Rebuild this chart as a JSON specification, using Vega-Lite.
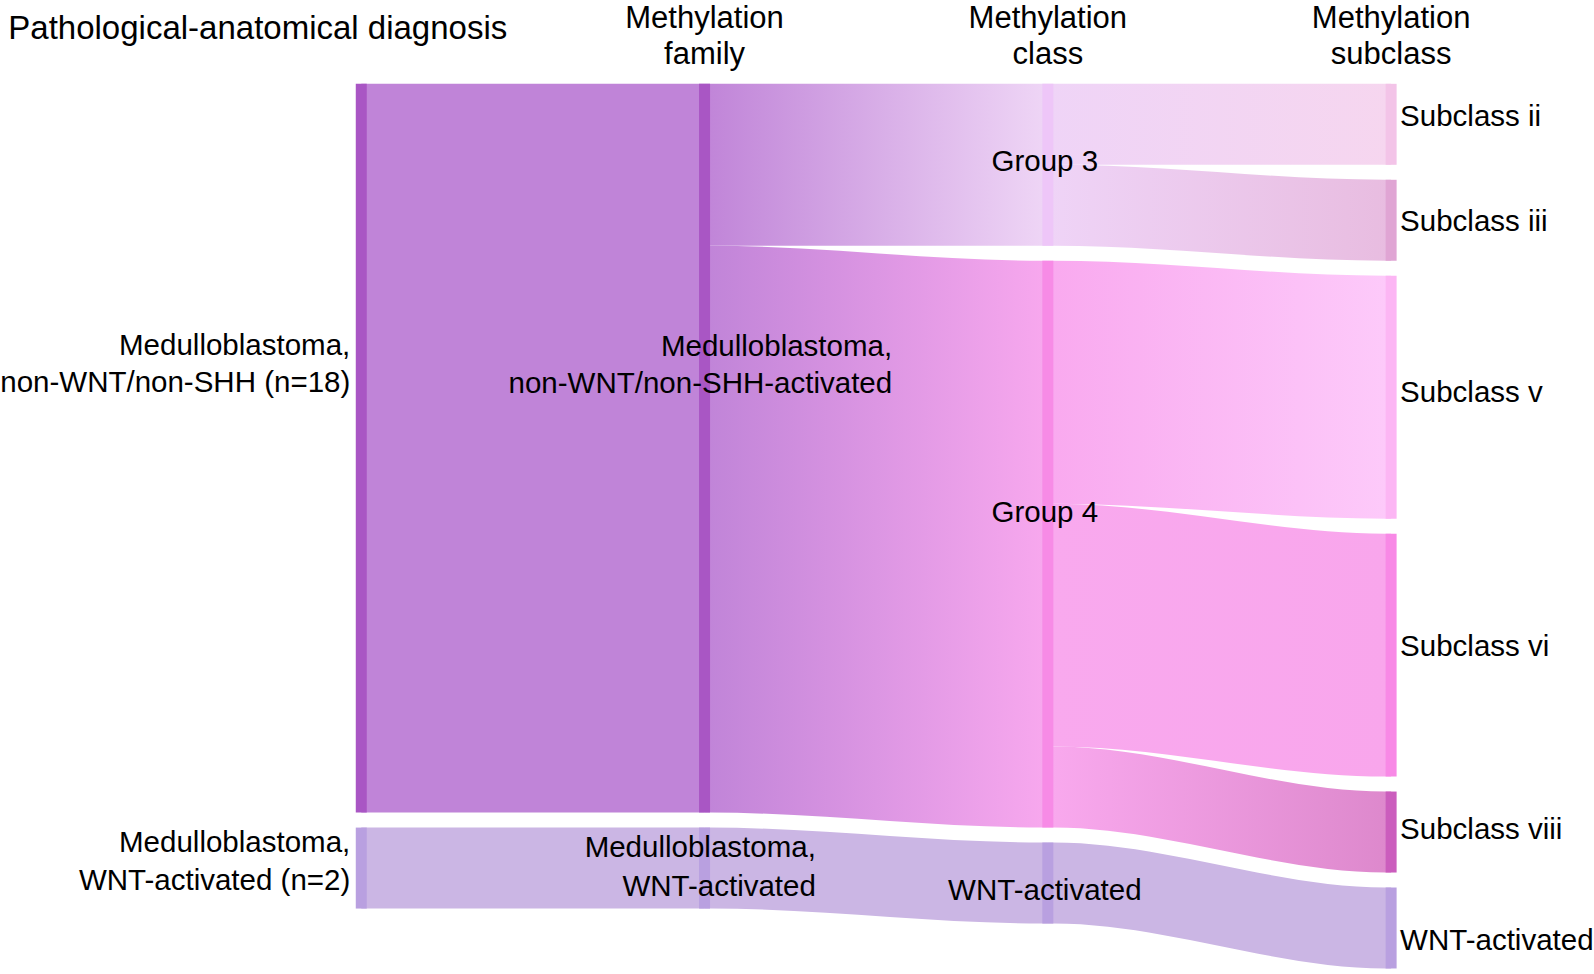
{
  "$schema": "https://vega.github.io/schema/vega-lite/v6.json",
  "width": 1594,
  "height": 974,
  "autosize": {"type": "fit", "contains": "padding"},
  "padding": 0,
  "background": "white",
  "config": {"view": {"stroke": null}, "text": {"font": "Liberation Sans", "color": "#000000"}},
  "datasets": {
    "links": [
      {"link": "L1", "x": 0, "y": 0, "y2": 18}, {"link": "L1", "x": 0.016, "y": 0, "y2": 18}, {"link": "L1", "x": 0.984, "y": 0, "y2": 18}, {"link": "L1", "x": 1, "y": 0, "y2": 18},
      {"link": "L2", "x": 0, "y": 18.37, "y2": 20.37}, {"link": "L2", "x": 0.016, "y": 18.37, "y2": 20.37}, {"link": "L2", "x": 0.984, "y": 18.37, "y2": 20.37}, {"link": "L2", "x": 1, "y": 18.37, "y2": 20.37},
      {"link": "L3", "x": 1, "y": 0, "y2": 4}, {"link": "L3", "x": 1.016, "y": 0, "y2": 4}, {"link": "L3", "x": 1.984, "y": 0, "y2": 4}, {"link": "L3", "x": 2, "y": 0, "y2": 4},
      {"link": "L4", "x": 1, "y": 4, "y2": 18}, {"link": "L4", "x": 1.016, "y": 4, "y2": 18}, {"link": "L4", "x": 1.984, "y": 4.37, "y2": 18.37}, {"link": "L4", "x": 2, "y": 4.37, "y2": 18.37},
      {"link": "L5", "x": 1, "y": 18.37, "y2": 20.37}, {"link": "L5", "x": 1.016, "y": 18.37, "y2": 20.37}, {"link": "L5", "x": 1.984, "y": 18.74, "y2": 20.74}, {"link": "L5", "x": 2, "y": 18.74, "y2": 20.74},
      {"link": "L6", "x": 2, "y": 0, "y2": 2}, {"link": "L6", "x": 2.016, "y": 0, "y2": 2}, {"link": "L6", "x": 2.984, "y": 0, "y2": 2}, {"link": "L6", "x": 3, "y": 0, "y2": 2},
      {"link": "L7", "x": 2, "y": 2, "y2": 4}, {"link": "L7", "x": 2.016, "y": 2, "y2": 4}, {"link": "L7", "x": 2.984, "y": 2.37, "y2": 4.37}, {"link": "L7", "x": 3, "y": 2.37, "y2": 4.37},
      {"link": "L8", "x": 2, "y": 4.37, "y2": 10.37}, {"link": "L8", "x": 2.016, "y": 4.37, "y2": 10.37}, {"link": "L8", "x": 2.984, "y": 4.74, "y2": 10.74}, {"link": "L8", "x": 3, "y": 4.74, "y2": 10.74},
      {"link": "L9", "x": 2, "y": 10.37, "y2": 16.37}, {"link": "L9", "x": 2.016, "y": 10.37, "y2": 16.37}, {"link": "L9", "x": 2.984, "y": 11.11, "y2": 17.11}, {"link": "L9", "x": 3, "y": 11.11, "y2": 17.11},
      {"link": "L10", "x": 2, "y": 16.37, "y2": 18.37}, {"link": "L10", "x": 2.016, "y": 16.37, "y2": 18.37}, {"link": "L10", "x": 2.984, "y": 17.48, "y2": 19.48}, {"link": "L10", "x": 3, "y": 17.48, "y2": 19.48},
      {"link": "L11", "x": 2, "y": 18.74, "y2": 20.74}, {"link": "L11", "x": 2.016, "y": 18.74, "y2": 20.74}, {"link": "L11", "x": 2.984, "y": 19.85, "y2": 21.85}, {"link": "L11", "x": 3, "y": 19.85, "y2": 21.85}
    ],
    "nodes": [
      {"node": "nonWNT1", "x": 0, "y": 0, "y2": 18},
      {"node": "WNT1", "x": 0, "y": 18.37, "y2": 20.37},
      {"node": "nonWNT2", "x": 1, "y": 0, "y2": 18},
      {"node": "WNT2", "x": 1, "y": 18.37, "y2": 20.37},
      {"node": "G3", "x": 2, "y": 0, "y2": 4},
      {"node": "G4", "x": 2, "y": 4.37, "y2": 18.37},
      {"node": "WNT3", "x": 2, "y": 18.74, "y2": 20.74},
      {"node": "ii", "x": 3, "y": 0, "y2": 2},
      {"node": "iii", "x": 3, "y": 2.37, "y2": 4.37},
      {"node": "v", "x": 3, "y": 4.74, "y2": 10.74},
      {"node": "vi", "x": 3, "y": 11.11, "y2": 17.11},
      {"node": "viii", "x": 3, "y": 17.48, "y2": 19.48},
      {"node": "WNT4", "x": 3, "y": 19.85, "y2": 21.85}
    ],
    "labels": [
      {"grp": "c1", "x": 0, "y": 6.47, "text": "Medulloblastoma,\nnon-WNT/non-SHH (n=18)"},
      {"grp": "c1", "x": 0, "y": 18.75, "text": "Medulloblastoma,\nWNT-activated (n=2)"},
      {"grp": "c2a", "x": 1, "y": 6.49, "text": "Medulloblastoma,\nnon-WNT/non-SHH-activated"},
      {"grp": "c2b", "x": 1, "y": 18.87, "text": "Medulloblastoma,\nWNT-activated"},
      {"grp": "c3", "x": 2, "y": 1.94, "text": "Group 3"},
      {"grp": "c3", "x": 2, "y": 10.6, "text": "Group 4"},
      {"grp": "c3", "x": 2, "y": 19.93, "text": "WNT-activated"},
      {"grp": "c4", "x": 3, "y": 0.82, "text": "Subclass ii"},
      {"grp": "c4", "x": 3, "y": 3.42, "text": "Subclass iii"},
      {"grp": "c4", "x": 3, "y": 7.63, "text": "Subclass v"},
      {"grp": "c4", "x": 3, "y": 13.92, "text": "Subclass vi"},
      {"grp": "c4", "x": 3, "y": 18.42, "text": "Subclass viii"},
      {"grp": "c4", "x": 3, "y": 21.16, "text": "WNT-activated"},
      {"grp": "h1", "x": 0, "y": -1.35, "text": "Pathological-anatomical diagnosis"},
      {"grp": "h", "x": 1, "y": -1.6, "text": "Methylation\nfamily"},
      {"grp": "h", "x": 2, "y": -1.6, "text": "Methylation\nclass"},
      {"grp": "h", "x": 3, "y": -1.6, "text": "Methylation\nsubclass"}
    ]
  },
  "encoding": {
    "x": {"field": "x", "type": "quantitative", "scale": {"domain": [-1.0524, 3.5881], "nice": false, "zero": false}, "axis": null},
    "y": {"field": "y", "type": "quantitative", "scale": {"domain": [-2.0705, 21.937], "nice": false, "zero": false, "reverse": true}, "axis": null}
  },
  "layer": [
    {"data": {"name": "links"}, "transform": [{"filter": {"field": "link", "equal": "L1"}}],
     "mark": {"type": "area", "orient": "vertical", "interpolate": "monotone", "color": "#c084d8"},
     "encoding": {"y2": {"field": "y2"}}},
    {"data": {"name": "links"}, "transform": [{"filter": {"field": "link", "equal": "L2"}}],
     "mark": {"type": "area", "orient": "vertical", "interpolate": "monotone", "color": "#cbb6e4"},
     "encoding": {"y2": {"field": "y2"}}},
    {"data": {"name": "links"}, "transform": [{"filter": {"field": "link", "equal": "L3"}}],
     "mark": {"type": "area", "orient": "vertical", "interpolate": "monotone", "color": {"gradient": "linear", "x1": 0, "x2": 1, "y1": 0, "y2": 0, "stops": [{"offset": 0, "color": "#c084d8"}, {"offset": 1, "color": "#efd6f6"}]}},
     "encoding": {"y2": {"field": "y2"}}},
    {"data": {"name": "links"}, "transform": [{"filter": {"field": "link", "equal": "L4"}}],
     "mark": {"type": "area", "orient": "vertical", "interpolate": "monotone", "color": {"gradient": "linear", "x1": 0, "x2": 1, "y1": 0, "y2": 0, "stops": [{"offset": 0, "color": "#c084d8"}, {"offset": 1, "color": "#f8a8ee"}]}},
     "encoding": {"y2": {"field": "y2"}}},
    {"data": {"name": "links"}, "transform": [{"filter": {"field": "link", "equal": "L5"}}],
     "mark": {"type": "area", "orient": "vertical", "interpolate": "monotone", "color": "#cbb6e4"},
     "encoding": {"y2": {"field": "y2"}}},
    {"data": {"name": "links"}, "transform": [{"filter": {"field": "link", "equal": "L6"}}],
     "mark": {"type": "area", "orient": "vertical", "interpolate": "monotone", "color": {"gradient": "linear", "x1": 0, "x2": 1, "y1": 0, "y2": 0, "stops": [{"offset": 0, "color": "#efd4f7"}, {"offset": 1, "color": "#f6d6ef"}]}},
     "encoding": {"y2": {"field": "y2"}}},
    {"data": {"name": "links"}, "transform": [{"filter": {"field": "link", "equal": "L7"}}],
     "mark": {"type": "area", "orient": "vertical", "interpolate": "monotone", "color": {"gradient": "linear", "x1": 0, "x2": 1, "y1": 0, "y2": 0, "stops": [{"offset": 0, "color": "#efd4f7"}, {"offset": 1, "color": "#e8bce0"}]}},
     "encoding": {"y2": {"field": "y2"}}},
    {"data": {"name": "links"}, "transform": [{"filter": {"field": "link", "equal": "L8"}}],
     "mark": {"type": "area", "orient": "vertical", "interpolate": "monotone", "color": {"gradient": "linear", "x1": 0, "x2": 1, "y1": 0, "y2": 0, "stops": [{"offset": 0, "color": "#f9a9ef"}, {"offset": 1, "color": "#fdcafa"}]}},
     "encoding": {"y2": {"field": "y2"}}},
    {"data": {"name": "links"}, "transform": [{"filter": {"field": "link", "equal": "L9"}}],
     "mark": {"type": "area", "orient": "vertical", "interpolate": "monotone", "color": {"gradient": "linear", "x1": 0, "x2": 1, "y1": 0, "y2": 0, "stops": [{"offset": 0, "color": "#f9a9ee"}, {"offset": 1, "color": "#f9a6ec"}]}},
     "encoding": {"y2": {"field": "y2"}}},
    {"data": {"name": "links"}, "transform": [{"filter": {"field": "link", "equal": "L10"}}],
     "mark": {"type": "area", "orient": "vertical", "interpolate": "monotone", "color": {"gradient": "linear", "x1": 0, "x2": 1, "y1": 0, "y2": 0, "stops": [{"offset": 0, "color": "#f9a9ee"}, {"offset": 1, "color": "#dd88cc"}]}},
     "encoding": {"y2": {"field": "y2"}}},
    {"data": {"name": "links"}, "transform": [{"filter": {"field": "link", "equal": "L11"}}],
     "mark": {"type": "area", "orient": "vertical", "interpolate": "monotone", "color": "#cbb6e4"},
     "encoding": {"y2": {"field": "y2"}}},
    {"data": {"name": "nodes"},
     "mark": {"type": "rule", "strokeWidth": 11, "strokeCap": "butt"},
     "encoding": {
       "y2": {"field": "y2"},
       "color": {"field": "node", "type": "nominal", "legend": null,
         "scale": {"domain": ["nonWNT1", "WNT1", "nonWNT2", "WNT2", "G3", "G4", "WNT3", "ii", "iii", "v", "vi", "viii", "WNT4"],
                   "range": ["#a956c4", "#b9a0e0", "#a956c4", "#b9a0e0", "#eec6f8", "#f78be6", "#b9a0e0", "#f3c4e8", "#e0a5d4", "#fcb6f4", "#f889e6", "#cb5dbd", "#b9a0e0"]}}
     }},
    {"data": {"name": "labels"}, "transform": [{"filter": {"field": "grp", "equal": "c1"}}],
     "mark": {"type": "text", "align": "right", "baseline": "middle", "dx": -11, "fontSize": 29.5, "lineBreak": "\n", "lineHeight": 37.6},
     "encoding": {"text": {"field": "text"}}},
    {"data": {"name": "labels"}, "transform": [{"filter": {"field": "grp", "equal": "c2a"}}],
     "mark": {"type": "text", "align": "right", "baseline": "middle", "dx": 187.6, "fontSize": 29.5, "lineBreak": "\n", "lineHeight": 37.6},
     "encoding": {"text": {"field": "text"}}},
    {"data": {"name": "labels"}, "transform": [{"filter": {"field": "grp", "equal": "c2b"}}],
     "mark": {"type": "text", "align": "right", "baseline": "middle", "dx": 111.3, "fontSize": 29.5, "lineBreak": "\n", "lineHeight": 39},
     "encoding": {"text": {"field": "text"}}},
    {"data": {"name": "labels"}, "transform": [{"filter": {"field": "grp", "equal": "c3"}}],
     "mark": {"type": "text", "align": "center", "baseline": "middle", "dx": -3, "fontSize": 29.5},
     "encoding": {"text": {"field": "text"}}},
    {"data": {"name": "labels"}, "transform": [{"filter": {"field": "grp", "equal": "c4"}}],
     "mark": {"type": "text", "align": "left", "baseline": "middle", "dx": 9, "fontSize": 29.5},
     "encoding": {"text": {"field": "text"}}},
    {"data": {"name": "labels"}, "transform": [{"filter": {"field": "grp", "equal": "h1"}}],
     "mark": {"type": "text", "align": "center", "baseline": "middle", "dx": -103.5, "fontSize": 33},
     "encoding": {"text": {"field": "text"}}},
    {"data": {"name": "labels"}, "transform": [{"filter": {"field": "grp", "equal": "h"}}],
     "mark": {"type": "text", "align": "center", "baseline": "middle", "fontSize": 31, "lineBreak": "\n", "lineHeight": 35.6},
     "encoding": {"text": {"field": "text"}}}
  ]
}
